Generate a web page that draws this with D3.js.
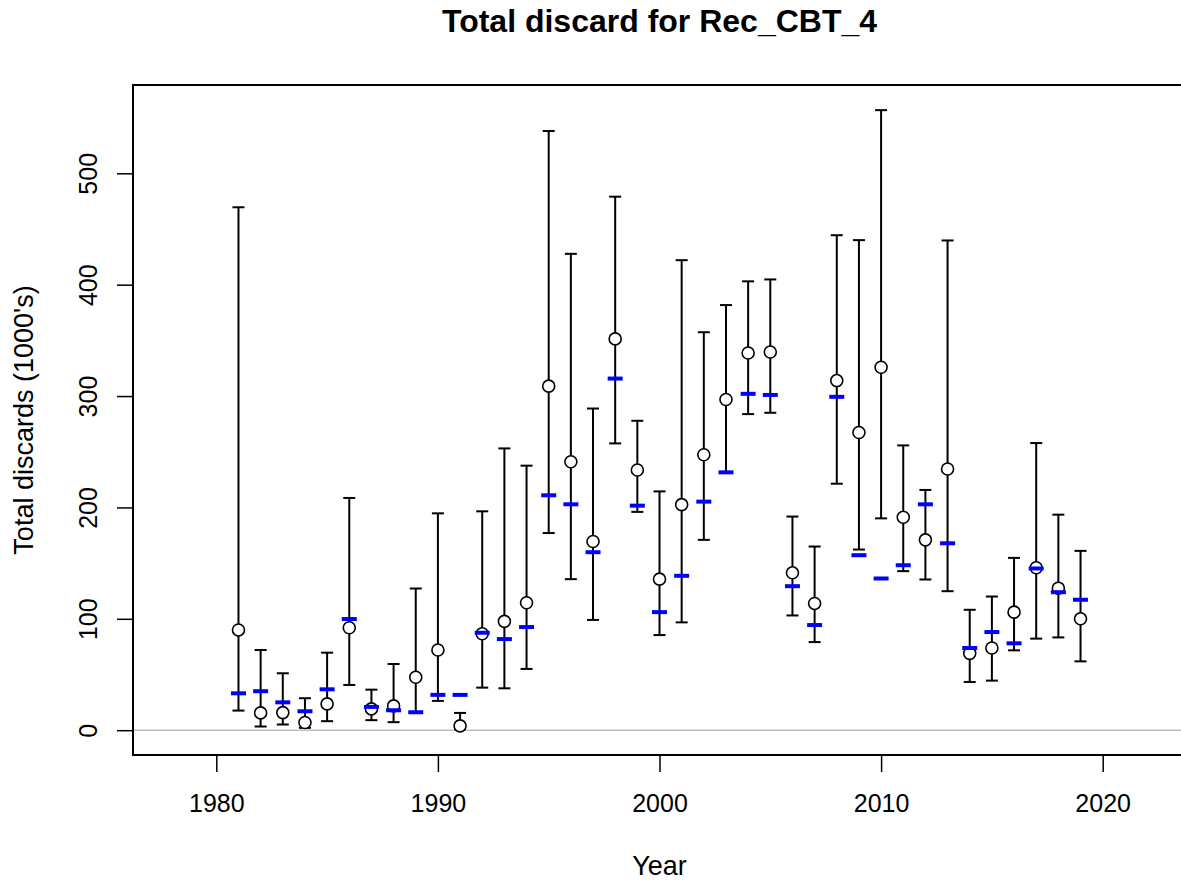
<!DOCTYPE html>
<html>
<head>
<meta charset="utf-8">
<script src="https://cdn.jsdelivr.net/npm/d3@7"></script>
<style>
  body { margin: 0; background: #fff; }
  text { font-family: "Liberation Sans", Arial, sans-serif; }
</style>
</head>
<body>
<svg id="chart" width="1181" height="884"></svg>
<script>
// data
var years = d3.range(1981, 2020);
var obs = [90, 15.5, 15.8, 6.9, 23.6, 92, 19.1, 21.8, 47.5, 72, 3.9, 86.6, 97.7, 114.4,
  308.9, 241, 169.4, 351.3, 233.6, 135.6, 202.5, 247.3, 296.9, 338.7, 339.6, 141.3,
  113.8, 313.9, 267.3, 325.9, 191.2, 170.9, 234.5, 69, 73.8, 106, 145.8, 127.5, 100];
var upper = [469.5, 72, 51.1, 28.7, 69.6, 208.5, 36.4, 59.4, 127.2, 194.7, 15.5, 196.5,
  253, 237.5, 538, 427.7, 288.8, 479, 277.8, 214.4, 422, 357.3, 381.7, 403, 404.7,
  191.8, 164.9, 444.4, 440, 556.7, 255.7, 215.7, 439.7, 108.1, 120, 154.7, 257.8, 193.5, 161];
var lower = [17.6, 3.3, 5.1, 2.1, 8.1, 40.6, 9, 7.2, 15.5, 26.3, 1, 38.2, 37.6, 55,
  177, 135.6, 99, 257.5, 196, 85.4, 96.8, 170.9, 231, 283.8, 285, 103, 79.1, 221.3,
  162.2, 190.2, 142.8, 135.3, 124.8, 43.3, 44.5, 71.7, 82.2, 83.3, 61.8];
var expected = [33.1, 35, 25, 17, 36.7, 99.8, 20.9, 17.9, 16.1, 31.7, 31.7, 87.5, 81.8,
  92.6, 210.9, 202.8, 159.8, 315.7, 201.6, 106, 138.6, 205.2, 231.5, 302, 301, 129.3,
  94.4, 299.3, 157.1, 136.2, 148.1, 202.8, 167.8, 73.8, 88.1, 78, 145.2, 123.9, 117.1];
var xTicks = [1980, 1990, 2000, 2010, 2020];
var yTicks = [0, 100, 200, 300, 400, 500];

var rows = years.map(function(y, i) {
  return {year: y, obs: obs[i], lo: lower[i], hi: upper[i], exp: expected[i]};
});

var svg = d3.select("#chart");
var pL = 133, pR = 1186, pT = 85, pB = 755;

// R style 4% padding
var x = d3.scaleLinear().domain([1976.24, 2023.76]).range([pL, pR]);
var ymax = 557;
var y = d3.scaleLinear().domain([-0.04 * ymax, ymax * 1.04]).range([pB, pT]);

svg.append("text")
  .attr("x", (pL + pR) / 2).attr("y", 32)
  .attr("text-anchor", "middle")
  .style("font-size", "32px").style("font-weight", "bold")
  .text("Total discard for Rec_CBT_4");

// zero line
svg.append("line")
  .attr("x1", pL).attr("x2", pR)
  .attr("y1", y(0)).attr("y2", y(0))
  .attr("stroke", "#bebebe").attr("stroke-width", 1.5);

var g = svg.append("g");

// error bars
g.selectAll("line.bar").data(rows).enter().append("line")
  .attr("class", "bar")
  .attr("x1", d => x(d.year)).attr("x2", d => x(d.year))
  .attr("y1", d => y(d.lo)).attr("y2", d => y(d.hi))
  .attr("stroke", "#000").attr("stroke-width", 2);
["lo", "hi"].forEach(function(k) {
  g.selectAll("line.cap" + k).data(rows).enter().append("line")
    .attr("class", "cap" + k)
    .attr("x1", d => x(d.year) - 6).attr("x2", d => x(d.year) + 6)
    .attr("y1", d => y(d[k])).attr("y2", d => y(d[k]))
    .attr("stroke", "#000").attr("stroke-width", 2);
});

// observed points
g.selectAll("circle").data(rows).enter().append("circle")
  .attr("cx", d => x(d.year)).attr("cy", d => y(d.obs))
  .attr("r", 6).attr("fill", "#fff")
  .attr("stroke", "#000").attr("stroke-width", 1.6);

// expected (blue dashes)
g.selectAll("line.exp").data(rows).enter().append("line")
  .attr("class", "exp")
  .attr("x1", d => x(d.year) - 7.5).attr("x2", d => x(d.year) + 7.5)
  .attr("y1", d => y(d.exp)).attr("y2", d => y(d.exp))
  .attr("stroke", "#0000ff").attr("stroke-width", 4);

// box
svg.append("rect")
  .attr("x", pL).attr("y", pT)
  .attr("width", pR - pL).attr("height", pB - pT)
  .attr("fill", "none").attr("stroke", "#000").attr("stroke-width", 2);

// axes
var xAxis = d3.axisBottom(x).tickValues(xTicks).tickFormat(d3.format("d"))
  .tickSize(17).tickPadding(0);
var gx = svg.append("g").attr("transform", "translate(0," + pB + ")").call(xAxis);
gx.select(".domain").remove();
gx.selectAll("line").attr("stroke-width", 1.5);
gx.selectAll("text").attr("y", 57).attr("dy", null)
  .style("font-size", "25px")
  .style("font-family", "'Liberation Sans', Arial, sans-serif");

var yAxis = d3.axisLeft(y).tickValues(yTicks).tickSize(16);
var gy = svg.append("g").attr("transform", "translate(" + pL + ",0)").call(yAxis);
gy.select(".domain").remove();
gy.selectAll("line").attr("stroke-width", 1.5);
gy.selectAll("text")
  .attr("x", null).attr("dy", null)
  .attr("transform", "translate(-36,0) rotate(-90)")
  .attr("text-anchor", "middle")
  .style("font-size", "25px")
  .style("font-family", "'Liberation Sans', Arial, sans-serif");

svg.append("text")
  .attr("x", (pL + pR) / 2).attr("y", 875)
  .attr("text-anchor", "middle").style("font-size", "27px")
  .text("Year");

svg.append("text")
  .attr("transform", "translate(33," + ((pT + pB) / 2) + ") rotate(-90)")
  .attr("text-anchor", "middle").style("font-size", "27px")
  .text("Total discards (1000's)");
</script>
</body>
</html>
